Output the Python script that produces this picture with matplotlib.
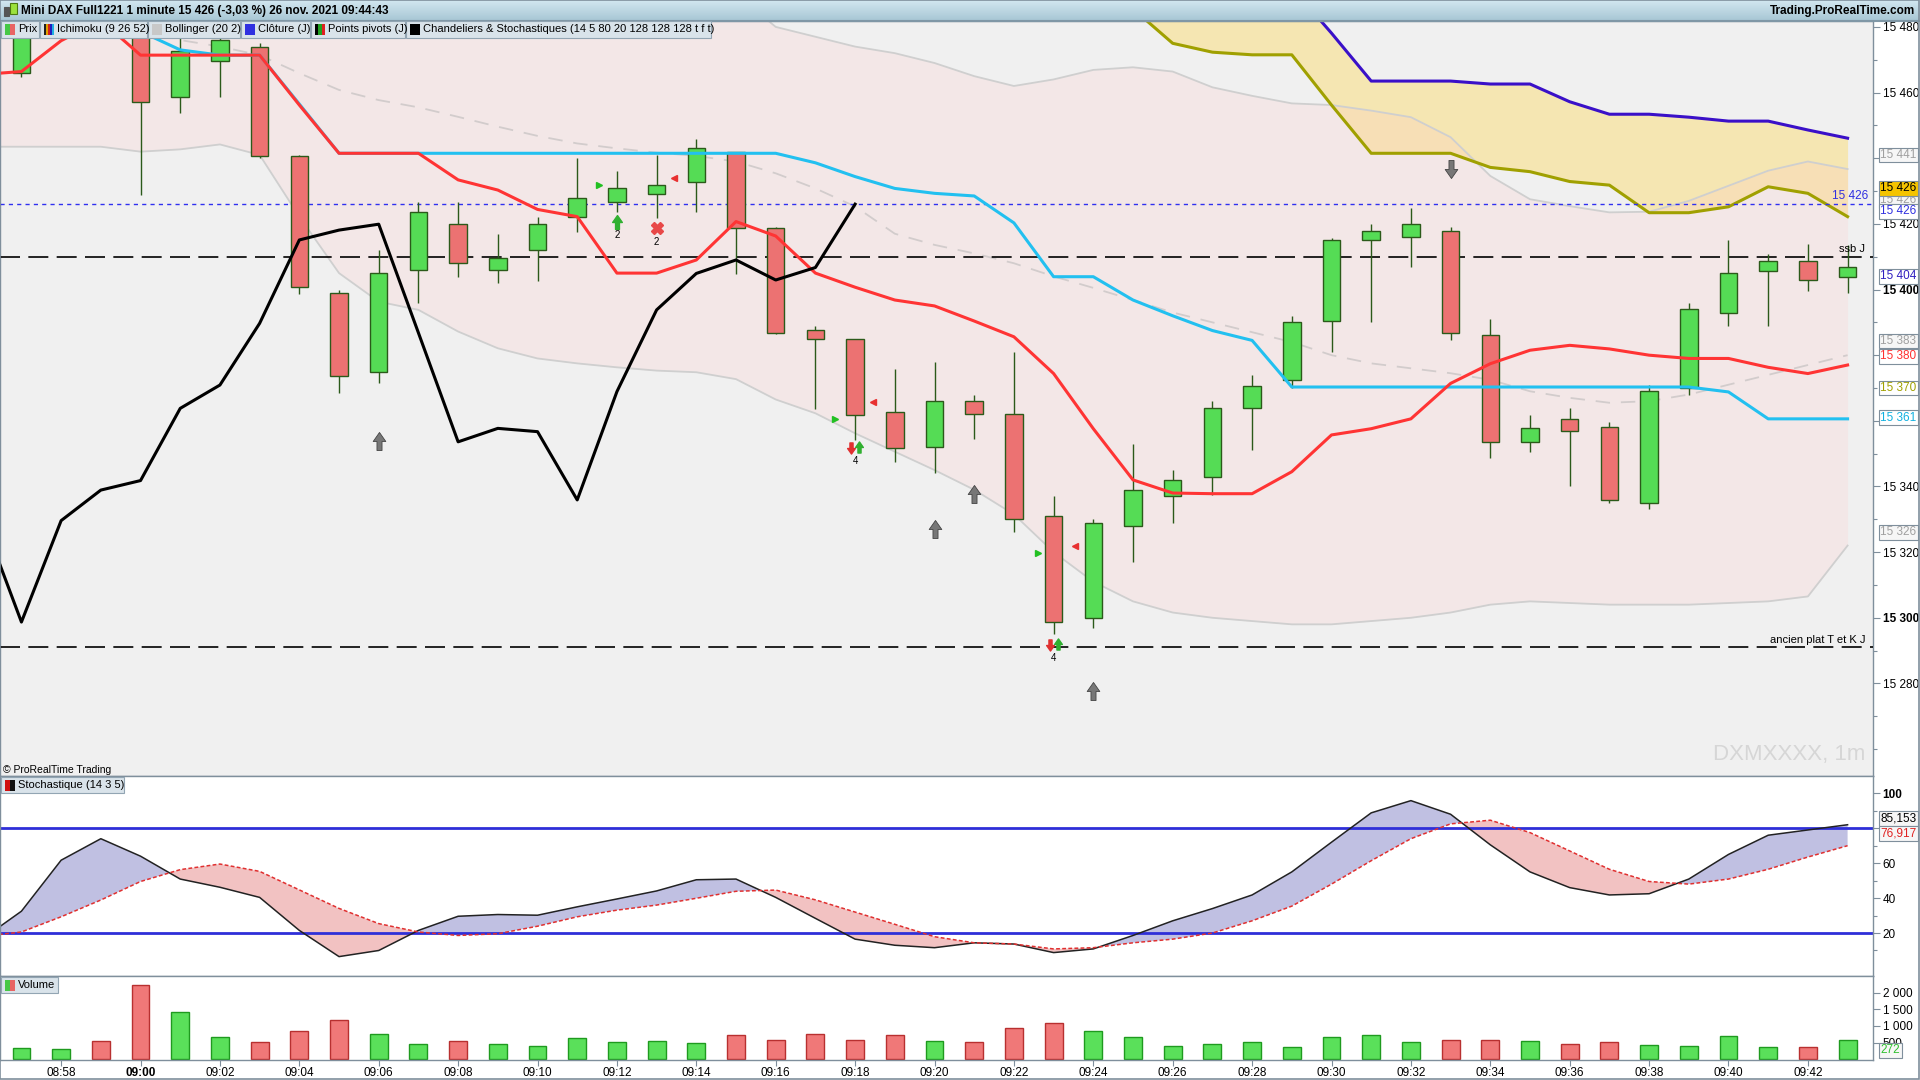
import numpy as np
import matplotlib.pyplot as plt
from matplotlib.path import Path
from matplotlib.patches import Rectangle

plt.rcParams['font.family'] = ['Liberation Sans', 'DejaVu Sans']

# ---- data (one entry per minute, 08:56 .. 09:43) ----
minutes = ['08:56', '08:57', '08:58', '08:59', '09:00', '09:01', '09:02', '09:03', '09:04', '09:05',
           '09:06', '09:07', '09:08', '09:09', '09:10', '09:11', '09:12', '09:13', '09:14', '09:15',
           '09:16', '09:17', '09:18', '09:19', '09:20', '09:21', '09:22', '09:23', '09:24', '09:25',
           '09:26', '09:27', '09:28', '09:29', '09:30', '09:31', '09:32', '09:33', '09:34', '09:35',
           '09:36', '09:37', '09:38', '09:39', '09:40', '09:41', '09:42', '09:43']

opens = [15470, 15465.9, 15480, 15492, 15484, 15458.8, 15469.7, 15473.8, 15440.8, 15398.9,
         15374.8, 15406, 15419.9, 15406, 15412, 15422, 15426.8, 15429, 15432.8, 15441.8,
         15418.8, 15387.8, 15384.8, 15362.8, 15352, 15366, 15362, 15331, 15300, 15328,
         15337, 15343, 15364, 15372.5, 15390.5, 15415.1, 15415.9, 15417.8, 15386, 15353.6,
         15360.6, 15358, 15335, 15370, 15392.7, 15405.7, 15408.8, 15403.7]
highs = [15484, 15483, 15492, 15494, 15490, 15477, 15479, 15475, 15441, 15399.9,
         15412, 15426.8, 15426.8, 15416.9, 15422, 15440, 15436.1, 15441, 15445.8, 15442,
         15419, 15388.9, 15385, 15375.7, 15378, 15368, 15381, 15337, 15330, 15353,
         15345, 15366, 15374, 15392, 15415.6, 15420, 15424.7, 15418.9, 15391, 15361.8,
         15364, 15359.5, 15371, 15395.8, 15415.1, 15410.8, 15413.9, 15413.6]
lows = [15466, 15464.8, 15478, 15479, 15428.8, 15453.9, 15458.8, 15440, 15398.6, 15368.6,
        15371.6, 15395.8, 15403.7, 15401.9, 15402.7, 15417.6, 15423.7, 15421.7, 15423.7, 15404.7,
        15386.5, 15363.6, 15354.3, 15347.5, 15344, 15354.6, 15326, 15295, 15297, 15317,
        15329, 15337.5, 15351, 15370, 15381, 15390, 15406.8, 15384.6, 15348.8, 15350.6,
        15340, 15335, 15333, 15368, 15389, 15389, 15399.6, 15398.8]
closes = [15480, 15479, 15488, 15484, 15457, 15472.8, 15476, 15440.8, 15400.9, 15373.7,
          15405, 15423.7, 15408, 15409.7, 15419.9, 15427.8, 15430.8, 15431.8, 15443, 15418.8,
          15386.9, 15384.8, 15361.8, 15351.6, 15366, 15362, 15330, 15298.7, 15329, 15339,
          15342, 15364, 15370.7, 15390, 15415.1, 15417.8, 15420, 15386.9, 15353.6, 15357.7,
          15357, 15336, 15369, 15394, 15404.9, 15408.8, 15402.9, 15406.8]
volumes = [400, 350, 320, 560, 2240, 1430, 680, 530, 860, 1190,
           770, 470, 560, 470, 410, 650, 530, 560, 500, 730,
           584, 767, 584, 730, 548, 511, 950, 1095, 840, 657,
           400, 475, 511, 365, 657, 730, 511, 584, 584, 548,
           475, 511, 438, 400, 694, 365, 366, 594]

tenkan = [15500, 15498, 15495, 15490, 15478.6, 15473, 15471.4, 15471.4, 15456.5, 15441.5,
          15441.5, 15441.5, 15441.5, 15441.5, 15441.5, 15441.5, 15441.5, 15441.5, 15441.5, 15441.5,
          15441.5, 15438.6, 15434.4, 15430.8, 15429.3, 15428.5, 15420.3, 15403.9, 15403.9, 15396.8,
          15392, 15387.5, 15384.5, 15370.3, 15370.3, 15370.3, 15370.3, 15370.3, 15370.3, 15370.3,
          15370.3, 15370.3, 15370.3, 15370.3, 15368.8, 15360.6, 15360.6, 15360.6]
kijun = [15465.5, 15466.4, 15475.8, 15482, 15471.4, 15471.4, 15471.4, 15471.4, 15456.2, 15441.5,
         15441.5, 15441.5, 15433.4, 15430.3, 15424.4, 15422.2, 15405, 15405, 15409, 15420.7,
         15416.3, 15405, 15400.7, 15396.8, 15395, 15390.4, 15385.6, 15374.4, 15357.6, 15342,
         15338, 15337.8, 15337.8, 15344.5, 15355.7, 15357.6, 15360.6, 15371.4, 15377.4, 15381.5,
         15383, 15381.9, 15380, 15379, 15379, 15376.3, 15374.4, 15377]
nan = np.nan
span_a = [nan, nan, nan, nan, nan, nan, nan, nan, nan, nan,
          nan, nan, nan, nan, nan, nan, nan, nan, nan, nan,
          nan, nan, nan, nan, nan, nan, nan, nan, 15495, 15485.5,
          15475, 15472.3, 15471.5, 15471.5, 15456.2, 15441.5, 15441.5, 15441.5, 15437.2, 15435.9,
          15432.9, 15431.8, 15423.4, 15423.4, 15425.2, 15431.3, 15429.3, 15422.2]
span_b = [nan, nan, nan, nan, nan, nan, nan, nan, nan, nan,
          nan, nan, nan, nan, nan, nan, nan, nan, nan, nan,
          nan, nan, nan, nan, nan, nan, nan, nan, 15500, 15500,
          15500, 15500, 15500, 15492, 15478.1, 15463.5, 15463.5, 15463.5, 15462.6, 15462.6,
          15457.2, 15453.4, 15453.4, 15452.5, 15451.3, 15451.3, 15448.6, 15446.1]
boll_up = [15490, 15490, 15490, 15490, 15490, 15490, 15490, 15490, 15490, 15490,
           15490, 15490, 15490, 15490, 15490, 15490, 15490, 15490, 15490, 15490,
           15480, 15477, 15474, 15472, 15469, 15465, 15462, 15464, 15466.9, 15467.7,
           15466.4, 15461.6, 15459, 15456.7, 15456.2, 15454.5, 15452.5, 15446.4, 15434.6, 15427.5,
           15425.4, 15423.5, 15423.7, 15427, 15431.6, 15436.2, 15439, 15436.7]
boll_mid = [15490, 15488, 15485, 15482, 15479, 15476, 15474, 15471.4, 15465.9, 15460.8,
            15457.7, 15455.5, 15452.6, 15449.6, 15446.8, 15444.5, 15443, 15441.7, 15440.7, 15439,
            15435.4, 15430.8, 15425.3, 15417, 15413.6, 15411, 15408, 15404, 15400.5, 15396.8,
            15393, 15390, 15387, 15384, 15380, 15377.5, 15376, 15374.5, 15372.5, 15369,
            15367, 15365.5, 15366, 15368, 15371, 15374, 15377, 15380]
boll_low = [15443.5, 15443.5, 15443.5, 15443.5, 15442, 15442.7, 15444.2, 15441, 15422.2, 15405,
            15396.3, 15393.8, 15387.2, 15382.1, 15379, 15377.5, 15376.3, 15375.3, 15374.8, 15372.7,
            15366.5, 15362.3, 15356.2, 15350.6, 15345, 15339, 15331.5, 15320, 15311, 15305,
            15301.6, 15300, 15299, 15298, 15298, 15299, 15300, 15301.6, 15304, 15305,
            15304.5, 15304, 15304, 15304, 15304.5, 15305, 15306.5, 15322]
chandelier = [15331, 15298.7, 15329.6, 15338.9, 15341.8, 15363.8, 15370.9, 15389.7, 15415.1, 15418.1,
              15419.9, 15386.8, 15353.6, 15357.7, 15356.7, 15335.9, 15368.9, 15393.8, 15404.9, 15409,
              15402.9, 15406.7, 15426, nan, nan, nan, nan, nan, nan, nan,
              nan, nan, nan, nan, nan, nan, nan, nan, nan, nan,
              nan, nan, nan, nan, nan, nan, nan, nan]

stoch_k = [16.3, 32.5, 61.7, 74.0, 64.0, 50.9, 46.2, 40.4, 21.5, 6.5,
           10.0, 21.5, 29.6, 30.6, 30.2, 35.0, 39.5, 44.1, 50.5, 50.9,
           40.4, 28.4, 16.5, 13, 11.6, 14.4, 13.7, 8.8, 10.9, 18.6,
           27, 34, 41.8, 55, 72, 88.8, 95.8, 88, 70.5, 55,
           46, 41.8, 42.5, 50.9, 65, 76, 79, 82]
stoch_d = [18, 20.6, 29.3, 38.9, 49.5, 56.3, 59.5, 55.3, 44.7, 34.1,
           25.4, 20.6, 18.6, 19.6, 23.9, 29.3, 33.1, 36.0, 39.9, 43.9,
           44.6, 39, 32, 25, 17.9, 14.4, 13.7, 10.9, 11.6, 14.4,
           16.5, 20, 27, 35.4, 48, 61.4, 74, 82.5, 84.6, 77.5,
           67, 56.5, 49.5, 48, 50.9, 56.5, 63.5, 70]

# horizontal reference lines and signals
close_day = 15426
ssb_day = 15410
old_flat = 15291
gray_up = [(10, 15353.9), (24, 15327), (25, 15337.8), (28, 15277.8)]
gray_down = [(37, 15436.7)]
green_tri = [(15.55, 15431.8), (21.5, 15360.7), (26.6, 15319.6)]
red_tri = [(17.45, 15434.1), (22.45, 15365.7), (27.55, 15321.8)]
green_up = [(16, 15420.7, '2')]
red_cross = [(17, 15418.6, '2')]
pair_arrows = [(22, 15351.6, '4'), (27, 15291.6, '4')]

# right axis value tags: text, y, text colour, face colour
price_tags = [('15 441', 15441, '#a0a0a0', '#f6f6f6'),
              ('15 426', 15427.2, '#a0a0a0', '#f6f6f6'),
              ('15 426', 15430.8, 'black', '#f5c400'),
              ('15 426', 15423.8, '#3030e0', 'white'),
              ('15 404', 15404, '#3020c0', 'white'),
              ('15 383', 15384.3, '#a0a0a0', '#f6f6f6'),
              ('15 380', 15379.6, '#ff3030', 'white'),
              ('15 370', 15370, '#a0a000', 'white'),
              ('15 361', 15361, '#10b0e0', 'white'),
              ('15 326', 15326, '#a0a0a0', '#f6f6f6')]

W, H = 1920, 1080
XR = 1873
SPINE = '#7f8f9c'
GREEN, RED, EDGE = '#55dc55', '#ec7272', '#2b5a1a'

fig = plt.figure(figsize=(19.2, 10.8), dpi=100)
fig.patch.set_facecolor('white')


def frac(x0, y0, x1, y1):
    return [x0 / W, 1 - y1 / H, (x1 - x0) / W, (y1 - y0) / H]


def fbox(x0, y0, x1, y1, face, edge=None, z=10, lw=0.8):
    fig.add_artist(Rectangle((x0 / W, 1 - y1 / H), (x1 - x0) / W, (y1 - y0) / H,
                             transform=fig.transFigure, facecolor=face,
                             edgecolor=edge if edge else face, lw=lw, zorder=z))


x = np.arange(len(minutes))
o = np.array(opens)
c = np.array(closes)
up = c >= o

ax = fig.add_axes(frac(0, 21, XR, 776))
ax_st = fig.add_axes(frac(0, 776, XR, 976), sharex=ax)
ax_v = fig.add_axes(frac(0, 976, XR, 1060), sharex=ax)

for a in (ax, ax_st, ax_v):
    for s in a.spines.values():
        s.set_color(SPINE)
        s.set_linewidth(1)
    a.yaxis.tick_right()
    a.tick_params(axis='y', direction='out', length=5, width=0.8, pad=2, labelsize=8.5,
                  color=SPINE, labelcolor='black')
    a.tick_params(axis='y', which='minor', direction='out', length=3, width=0.8, color=SPINE)
ax.set_facecolor('#f0f0f0')
ax_st.set_facecolor('white')
ax_v.set_facecolor('white')
ax.set_xlim(0.46, 47.64)
ax.set_ylim(15251.8, 15481.8)

# ---- main price panel ----
ax.fill_between(x, span_a, span_b, color='#f5e6b2', lw=0, zorder=0.5)
ax.fill_between(x, boll_low, boll_up, color=(1, 0.78, 0.78), alpha=0.22, lw=0, zorder=0.6)
ax.plot(x, boll_up, color='#cfcfcf', lw=1.3, zorder=1)
ax.plot(x, boll_low, color='#cfcfcf', lw=1.3, zorder=1)
ax.plot(x, boll_mid, color='#d2cccc', lw=1.3, ls=(0, (8, 6)), zorder=1)
ax.plot(x, span_a, color='#a0a000', lw=2.2, zorder=2)
ax.plot(x, span_b, color='#3a10c8', lw=2.2, zorder=2)

ax.axhline(close_day, color='#3030f0', lw=1, ls=(0, (3, 3)), zorder=3)
ax.axhline(ssb_day, color='black', lw=1.2, ls=(0, (12, 5)), zorder=3)
ax.axhline(old_flat, color='black', lw=1.2, ls=(0, (12, 5)), zorder=3)

ax.vlines(x, lows, highs, color=EDGE, lw=1, zorder=4)
ax.bar(x, np.abs(c - o), bottom=np.minimum(o, c), width=0.44,
       color=np.where(up, GREEN, RED), edgecolor=EDGE, lw=1, zorder=5)

ax.plot(x, tenkan, color='#22c0f0', lw=2.2, zorder=6)
ax.plot(x, kijun, color='#ff3434', lw=2.2, zorder=6)
ax.plot(x, chandelier, color='black', lw=2.2, zorder=6)

up_arrow = Path([(-0.28, -1), (0.28, -1), (0.28, 0), (0.7, 0), (0, 1), (-0.7, 0), (-0.28, 0), (-0.28, -1)],
                [Path.MOVETO] + [Path.LINETO] * 6 + [Path.CLOSEPOLY])
down_arrow = Path([(vx, -vy) for vx, vy in up_arrow.vertices], up_arrow.codes)

for px, py in gray_up:
    ax.plot(px, py, marker=up_arrow, ms=13, color='#777777', mec='#444444', mew=0.6, zorder=7)
for px, py in gray_down:
    ax.plot(px, py, marker=down_arrow, ms=13, color='#777777', mec='#444444', mew=0.6, zorder=7)
for px, py in green_tri:
    ax.plot(px, py, marker='>', ms=4.5, color='#22c022', mec='#22c022', zorder=7)
for px, py in red_tri:
    ax.plot(px, py, marker='<', ms=4.5, color='#e83030', mec='#e83030', zorder=7)
for px, py, lab in green_up:
    ax.plot(px, py, marker=up_arrow, ms=10, color='#30b030', mec='#30b030', zorder=7)
    ax.text(px, py - 2.6, lab, ha='center', va='top', fontsize=7, zorder=7)
for px, py, lab in red_cross:
    ax.plot(px, py, marker='X', ms=8, color='#e84848', mec='#e84848', zorder=7)
    ax.text(px, py - 2.6, lab, ha='center', va='top', fontsize=7, zorder=7)
for px, py, lab in pair_arrows:
    ax.plot(px - 0.1, py, marker=down_arrow, ms=8, color='#e03030', mec='#e03030', zorder=7)
    ax.plot(px + 0.1, py + 0.5, marker=up_arrow, ms=8, color='#30b030', mec='#30b030', zorder=7)
    ax.text(px, py - 2.2, lab, ha='center', va='top', fontsize=7, zorder=7)

ax.text(47.52, close_day + 0.8, '15 426', ha='right', va='bottom', fontsize=8.5, color='#3030e0', zorder=7)
ax.text(47.45, ssb_day + 0.8, 'ssb J', ha='right', va='bottom', fontsize=8, color='black', zorder=7)
ax.text(47.45, old_flat + 0.8, 'ancien plat T et K J', ha='right', va='bottom', fontsize=8, zorder=7)
ax.text(47.45, 15258.5, 'DXMXXXX, 1m', ha='right', va='center', fontsize=16, color='#d6d6d6', zorder=1)

main_ticks = [15280, 15300, 15320, 15340, 15360, 15380, 15400, 15420, 15440, 15460, 15480]
main_labels = ['15 280', '15 300', '15 320', '15 340', '', '', '15 400', '15 420', '', '15 460', '15 480']
ax.set_yticks(main_ticks, labels=main_labels)
for t, v in zip(ax.get_yticklabels(), main_ticks):
    if v in (15300, 15400):
        t.set_fontweight('bold')
ax.set_yticks(np.arange(15260, 15481, 10), minor=True)
ax.tick_params(axis='x', which='both', length=0, labelbottom=False)

for txt, yv, tc, fc in price_tags:
    ax.text(1.004, yv, txt, transform=ax.get_yaxis_transform(), ha='left', va='center',
            fontsize=8.5, color=tc, clip_on=False, zorder=20,
            bbox=dict(boxstyle='square,pad=0.12', fc=fc, ec=SPINE, lw=0.8))

# ---- stochastic panel ----
k = np.array(stoch_k)
d = np.array(stoch_d)
ax_st.set_ylim(-4.6, 109.9)
ax_st.fill_between(x, k, d, where=k >= d, interpolate=True, color='#c0c0e2', lw=0)
ax_st.fill_between(x, k, d, where=k < d, interpolate=True, color='#f2c2c2', lw=0)
ax_st.axhline(80, color='#2f2fd8', lw=2)
ax_st.axhline(20, color='#2f2fd8', lw=2)
ax_st.plot(x, k, color='#222222', lw=1.1)
ax_st.plot(x, d, color='#e03030', lw=1.1, ls=(0, (2.5, 1.5)))
ax_st.set_yticks([20, 40, 60, 80, 100], labels=['20', '40', '60', '', '100'])
ax_st.get_yticklabels()[4].set_fontweight('bold')
ax_st.set_yticks([10, 30, 50, 70, 90], minor=True)
ax_st.tick_params(axis='x', which='both', length=0, labelbottom=False)
for txt, yv, tc in [('85,153', 85.6, 'black'), ('76,917', 77.0, '#e02020')]:
    ax_st.text(1.004, yv, txt, transform=ax_st.get_yaxis_transform(), ha='left', va='center',
               fontsize=8.5, color=tc, clip_on=False, zorder=20,
               bbox=dict(boxstyle='square,pad=0.12', fc='#f6f6f6', ec=SPINE, lw=0.8))

# ---- volume panel ----
ax_v.set_ylim(-20, 2500)
ax_v.bar(x, volumes, width=0.45, color=np.where(up, '#5ae05a', '#f07878'),
         edgecolor=np.where(up, '#1f9a1f', '#b83030'), lw=1)
ax_v.set_yticks([500, 1000, 1500, 2000], labels=['500', '1 000', '1 500', '2 000'])
ax_v.text(1.004, 272, '272', transform=ax_v.get_yaxis_transform(), ha='left', va='center',
          fontsize=8.5, color='#30c030', clip_on=False, zorder=20,
          bbox=dict(boxstyle='square,pad=0.12', fc='#f6f6f6', ec=SPINE, lw=0.8))
xt = list(range(2, 47, 2))
ax_v.set_xticks(xt, labels=[minutes[i] for i in xt])
ax_v.tick_params(axis='x', direction='out', length=4, width=0.8, color=SPINE, labelsize=8.5, pad=1)
for t in ax_v.get_xticklabels():
    if t.get_text() == '09:00':
        t.set_fontweight('bold')

# ---- header bar and legend boxes ----
hdr = fig.add_axes(frac(0, 0, W, 21))
hdr.imshow(np.linspace(0, 1, 32).reshape(-1, 1), aspect='auto', extent=(0, 1, 0, 1),
           cmap=plt.matplotlib.colors.LinearSegmentedColormap.from_list('h', ['#d2e7f0', '#a7c6d4']))
hdr.set_axis_off()
fbox(0, 20, W, 21, '#7f97a6', z=9)
fbox(4, 7, 9, 16, '#555555', z=11)
fbox(10, 3, 17, 14, '#9be23c', '#4c7a10', z=11)
fig.text(21 / W, 1 - 11 / H, 'Mini DAX Full1221 1 minute 15 426 (-3,03 %) 26 nov. 2021 09:44:43',
         fontsize=8.5, fontweight='bold', va='center', ha='left', zorder=12)
fig.text(1915 / W, 1 - 11 / H, 'Trading.ProRealTime.com', fontsize=8.5, fontweight='bold',
         va='center', ha='right', zorder=12)

legend_items = [('Prix', 1, 39, ['#46c846', '#e86464']),
                ('Ichimoku (9 26 52)', 40, 147, ['#202020', '#e0a000', '#d02020', '#2020c0', '#20b0e0']),
                ('Bollinger (20 2)', 148, 240, ['#c8c8c8']),
                ('Clôture (J)', 241, 310, ['#3030e0']),
                ('Points pivots (J)', 311, 405, ['#000000', '#20a020', '#e02020']),
                ('Chandeliers & Stochastiques (14 5 80 20 128 128 128 t f t)', 406, 711, ['#000000'])]
for lab, x0, x1, cols in legend_items:
    fbox(x0, 21, x1, 38, '#d9e3ea', '#92a5b3', z=10)
    n = len(cols)
    for j, col in enumerate(cols):
        fbox(x0 + 4 + j * 10 / n, 24, x0 + 4 + (j + 1) * 10 / n, 35, col, z=11, lw=0)
    fig.text((x0 + 17) / W, 1 - 29.5 / H, lab, fontsize=8, va='center', ha='left', zorder=12)

fbox(1, 777, 124, 793, '#d9e3ea', '#92a5b3', z=10)
fbox(5, 780, 10, 791, '#d01010', z=11, lw=0)
fbox(10, 780, 15, 791, '#101010', z=11, lw=0)
fig.text(18 / W, 1 - 785.5 / H, 'Stochastique (14 3 5)', fontsize=8, va='center', zorder=12)
fbox(1, 977, 58, 993, '#d9e3ea', '#92a5b3', z=10)
fbox(5, 980, 10, 991, '#46c846', z=11, lw=0)
fbox(10, 980, 15, 991, '#e86464', z=11, lw=0)
fig.text(18 / W, 1 - 985.5 / H, 'Volume', fontsize=8, va='center', zorder=12)
fig.text(3 / W, 1 - 770 / H, '© ProRealTime Trading', fontsize=7.5, va='center', zorder=12)

fbox(0, 0, W - 1, H - 1, 'none', SPINE, z=15, lw=1.2)

fig.savefig('out.png', dpi=100, facecolor=fig.get_facecolor())
